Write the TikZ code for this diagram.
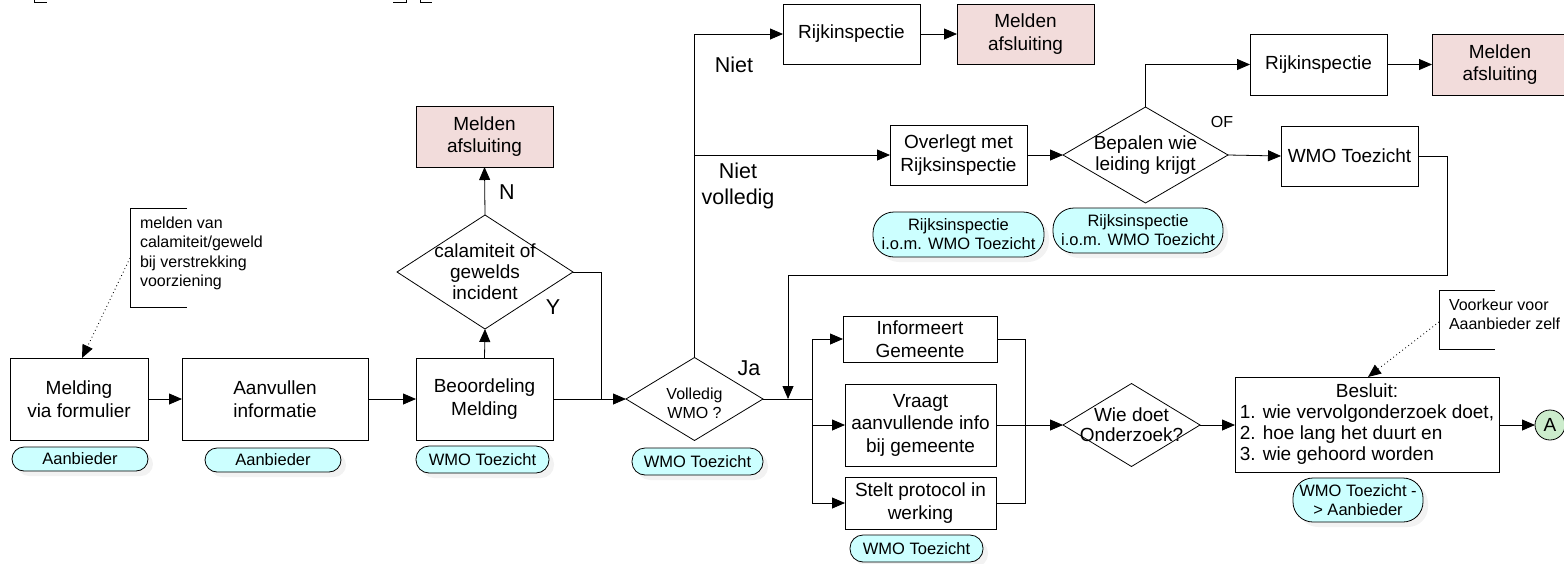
\documentclass[tikz,border=0pt]{standalone}
\usepackage{fontspec}
\setmainfont{Liberation Sans}
\usetikzlibrary{arrows.meta,shapes.geometric,shadows}
\definecolor{pinkc}{RGB}{242,220,219}
\definecolor{cyanc}{RGB}{204,255,255}
\definecolor{greenc}{RGB}{204,236,204}
\begin{document}
\begin{tikzpicture}[x=1pt,y=-1pt,
  every node/.style={inner sep=0pt, outer sep=0pt},
  ln/.style={line width=0.8pt, draw=black},
  arr/.style={ln, -{Triangle[length=13pt,width=11pt]}},
  dotarr/.style={line width=0.9pt, dash pattern=on 0.8pt off 3pt, -{Triangle[length=13pt,width=11pt]}},
  box/.style={draw, line width=0.8pt, fill=white, align=center, font=\fontsize{19}{22.5}\selectfont},
  pinkbox/.style={box, fill=pinkc},
  pill/.style={draw, line width=0.8pt, fill=cyanc, rounded corners=#1, align=center,
     font=\fontsize{16.5}{19}\selectfont,
     drop shadow={shadow xshift=5pt, shadow yshift=-5pt, fill=black, opacity=0.05}},
  pill/.default=12pt,
  dia/.style={draw, line width=0.8pt, diamond, fill=white},
  diatxt/.style={align=center, font=\fontsize{19}{21}\selectfont},
  lbl/.style={align=center, font=\fontsize{21.5}{26}\selectfont},
  note/.style={align=left, anchor=north west, font=\fontsize{16}{19.3}\selectfont}
]
\fill[white] (0,0) rectangle (1564,563);
\useasboundingbox (0,0) rectangle (1564,563);

% clipped fragments at top edge
\draw[ln] (34,0) -- (34,2) -- (47,2);
\draw[ln] (393,2) -- (406,2) -- (406,0);
\draw[ln] (420,0) -- (420,2) -- (432,2);

% main row
\node[box, minimum width=138, minimum height=82] (m1) at (79,399) {Melding\\via formulier};
\node[pill, minimum width=136, minimum height=24] (p1) at (80,459) {Aanbieder};
\node[box, minimum width=186, minimum height=82] (m2) at (275,399) {Aanvullen\\informatie};
\node[pill, minimum width=136, minimum height=24] (p2) at (273,460) {Aanbieder};
\node[box, minimum width=137, minimum height=82] (m3) at (484.5,399) {Beoordeling\\Melding};
\node[pill=13pt, minimum width=133, minimum height=27] (p3) at (482.5,459.5) {WMO Toezicht};

% calamiteit
\node[dia, minimum width=176, minimum height=114] (d1) at (485,272) {};
\node[diatxt] (t1) at (d1.center) {calamiteit of\\gewelds\\incident};
\node[pinkbox, minimum width=137, minimum height=61] (e1) at (484.5,136.5) {Melden\\afsluiting};
\node[lbl] (lN) at (507,192) {N};
\node[lbl] (lY) at (553,307) {Y};

% annotation 1
\draw[ln] (187,208) -- (130,208) -- (130,307) -- (187,307);
\node[note] (a1) at (140,217) {melden van\\calamiteit/geweld\\bij verstrekking\\voorziening};
\coordinate (a1p) at (130,258);
\coordinate (m1t) at (82,358);

% volledig
\node[dia, minimum width=137, minimum height=83] (d2) at (694.5,399) {};
\node[align=center, font=\fontsize{16}{19}\selectfont] (t2) at ([yshift=-4pt]d2.center) {Volledig\\WMO ?};
\node[pill=13pt, minimum width=131, minimum height=27] (p4) at (697.5,461.5) {WMO Toezicht};
\node[lbl] (lJa) at (749,368) {Ja};

% upper branches
\node[box, minimum width=137, minimum height=60] (r1) at (851.5,34) {Rijkinspectie};
\node[pinkbox, minimum width=137, minimum height=60] (e2) at (1025.5,34) {Melden\\afsluiting};
\node[lbl] (lNiet) at (734,65) {Niet};
\node[lbl] (lNv) at (738,186) {Niet\\volledig};
\node[box, minimum width=137, minimum height=60] (o1) at (958.5,155) {Overlegt met\\Rijksinspectie};
\node[pill=21pt, minimum width=171, minimum height=45] (p5) at (958.5,234.5) {Rijksinspectie\\i.o.m. WMO Toezicht};
\node[dia, minimum width=165, minimum height=96] (d3) at (1145.5,155) {};
\node[diatxt] (t3) at (d3.center) {Bepalen wie\\leiding krijgt};
\node[pill=21pt, minimum width=170, minimum height=45] (p6) at (1138,230.5) {Rijksinspectie\\i.o.m. WMO Toezicht};
\node[align=center, font=\fontsize{16}{19}\selectfont] (lOF) at (1222,122) {OF};
\node[box, minimum width=137, minimum height=61] (r2) at (1318.5,64.5) {Rijkinspectie};
\node[pinkbox, minimum width=136, minimum height=61] (e3) at (1500,64.5) {Melden\\afsluiting};
\node[box, minimum width=137, minimum height=60] (w1) at (1349.5,156) {WMO Toezicht};

% lower branches
\node[box, minimum width=154, minimum height=46] (i1) at (920,339) {Informeert\\Gemeente};
\node[box, minimum width=151, minimum height=82] (v1) at (920.5,425) {Vraagt\\aanvullende info\\bij gemeente};
\node[box, minimum width=151, minimum height=52] (s1) at (920.5,503) {Stelt protocol in\\werking};
\node[pill=13pt, minimum width=133, minimum height=27] (p7) at (916.5,548.5) {WMO Toezicht};
\node[dia, minimum width=137, minimum height=83] (d4) at (1131.5,425) {};
\node[align=center, font=\fontsize{19}{20}\selectfont] (t4) at (d4.center) {Wie doet\\Onderzoek?};
\node[box, minimum width=264, minimum height=95, font=\fontsize{19}{21}\selectfont] (b1) at (1367,425)
  {\begin{tabular}{@{}l@{}}\multicolumn{1}{@{}c@{}}{Besluit:}\\1. wie vervolgonderzoek doet,\\2. hoe lang het duurt en\\3. wie gehoord worden\end{tabular}};
\node[pill=20pt, minimum width=130, minimum height=44] (p8) at (1358,500) {WMO Toezicht -\\> Aanbieder};
\node[circle, draw, line width=0.8pt, fill=greenc, minimum size=30, font=\fontsize{19}{22}\selectfont] (c1) at (1550,425) {A};

% annotation 2
\draw[ln] (1495,290) -- (1439,290) -- (1439,349) -- (1495,349);
\node[note] (a2) at (1449,299) {Voorkeur voor\\Aaanbieder zelf};
\coordinate (a2p) at (1439,322);
\coordinate (b1t) at (1368,377);

% coordinates for junctions
\coordinate (j0) at (601,399);
\coordinate (j1) at (694.5,155);
\coordinate (k1) at (1447,275);
\coordinate (k2) at (788,275);
\coordinate (j2) at (788,399);
\coordinate (s0) at (812,399);
\coordinate (c0) at (1025,425);

% connectors
\draw[arr] (m1.east) -- (m2.west);
\draw[arr] (m2.east) -- (m3.west);
\draw[arr] (m3.north) -- (d1.south);
\draw[arr] (d1.north) -- (e1.south);
\draw[ln] (d1.east) -| (j0);
\draw[arr] (m3.east) -- (d2.west);
\draw[dotarr] (a1p) -- (m1t);
\draw[arr] (d2.north) |- (r1.west);
\draw[arr] (j1) -- (o1.west);
\draw[arr] (r1.east) -- (e2.west);
\draw[arr] (o1.east) -- (d3.west);
\draw[arr] (d3.north) |- (r2.west);
\draw[arr] (r2.east) -- (e3.west);
\draw[arr] (d3.east) -- (w1.west);
\draw[arr] (w1.east) -| (k1) -- (k2) -- (j2);
\draw[ln] (d2.east) -- (s0);
\draw[arr] (s0) |- (i1.west);
\draw[arr] (s0) |- (v1.west);
\draw[arr] (s0) |- (s1.west);
\draw[ln] (i1.east) -| (c0) |- (s1.east);
\draw[arr] (v1.east) -- (d4.west);
\draw[arr] (d4.east) -- (b1.west);
\draw[arr] (b1.east) -- (c1.west);
\draw[dotarr] (a2p) -- (b1t);
\end{tikzpicture}
\end{document}
